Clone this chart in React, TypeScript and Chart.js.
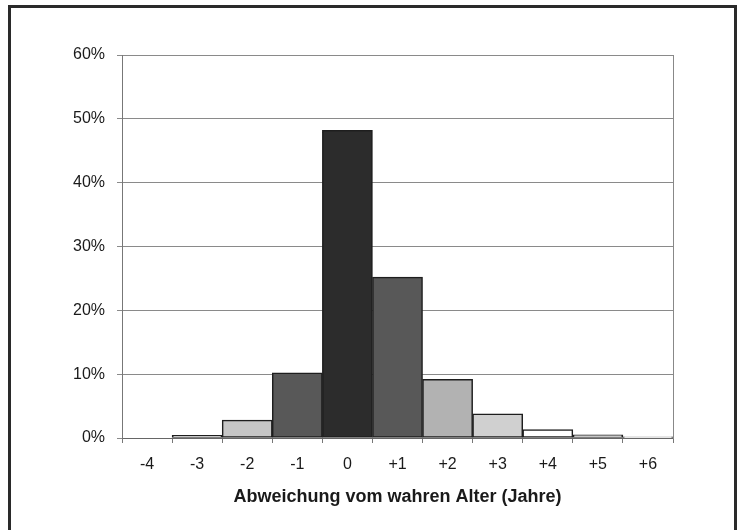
import React, { useEffect, useRef } from "react";
import { Chart, registerables } from "chart.js";

Chart.register(...registerables);

const categories = ["-4", "-3", "-2", "-1", "0", "+1", "+2", "+3", "+4", "+5", "+6"];
const shares = [0.0, 0.4, 2.8, 10.2, 48.2, 25.2, 9.2, 3.8, 1.3, 0.5, 0.2];
const barColors = [
  "#ffffff", "#ffffff", "#c6c6c6", "#585858", "#2c2c2c", "#585858",
  "#b2b2b2", "#d0d0d0", "#ffffff", "#ffffff", "#ffffff",
];
const yTicks = [0, 10, 20, 30, 40, 50, 60];
const xTitle = "Abweichung vom wahren Alter (Jahre)";

export default function App() {
  const ref = useRef<HTMLCanvasElement | null>(null);

  useEffect(() => {
    if (!ref.current) return;
    const font = "'Liberation Sans', Arial, Helvetica, sans-serif";
    const chart = new Chart(ref.current, {
      type: "bar",
      data: {
        labels: categories,
        datasets: [
          {
            data: shares,
            backgroundColor: barColors,
            borderColor: "#1e1e1e",
            borderWidth: 1.5,
            borderSkipped: false,
            barPercentage: 1,
            categoryPercentage: 1,
          },
        ],
      },
      options: {
        animation: false,
        responsive: true,
        maintainAspectRatio: false,
        layout: { padding: { top: 55, right: 66, bottom: 12, left: 0 } },
        plugins: {
          legend: { display: false },
          tooltip: { enabled: false },
        },
        scales: {
          x: {
            grid: {
              display: true,
              drawOnChartArea: false,
              drawTicks: true,
              tickLength: 5,
              color: "#777",
              offset: true,
            },
            border: { display: true, color: "#666", width: 1 },
            ticks: {
              color: "#1a1a1a",
              font: { family: font, size: 16 },
              padding: 12,
              maxRotation: 0,
              autoSkip: false,
            },
            title: {
              display: true,
              text: xTitle,
              color: "#1a1a1a",
              font: { family: font, size: 18, weight: "bold" },
              padding: { top: 0, bottom: 10 },
            },
            afterFit: (s: any) => {
              s.height = 80;
            },
          },
          y: {
            min: 0,
            max: 60,
            afterBuildTicks: (s: any) => {
              s.ticks = yTicks.map((v) => ({ value: v }));
            },
            grid: {
              color: "#8a8a8a",
              lineWidth: 1,
              tickLength: 5,
              drawTicks: true,
            },
            border: { display: true, color: "#777", width: 1 },
            ticks: {
              color: "#1a1a1a",
              font: { family: font, size: 16 },
              padding: 12,
              callback: (v: any) => `${v}%`,
            },
            afterFit: (s: any) => {
              s.width = 122;
            },
          },
          yRight: {
            position: "right",
            min: 0,
            max: 60,
            grid: { display: false, drawTicks: false },
            border: { display: true, color: "#888", width: 1 },
            ticks: { display: false },
            afterFit: (s: any) => {
              s.width = 0;
            },
          },
        },
      },
    });
    return () => chart.destroy();
  }, []);

  return (
    <>
      <div
        style={{
          position: "absolute",
          left: 8,
          top: 5,
          width: 729,
          height: 540,
          boxSizing: "border-box",
          border: "3px solid #2a2a2a",
        }}
      />
      <div style={{ position: "absolute", left: 0, top: 0, width: 739, height: 530 }}>
        <canvas ref={ref} />
      </div>
    </>
  );
}
